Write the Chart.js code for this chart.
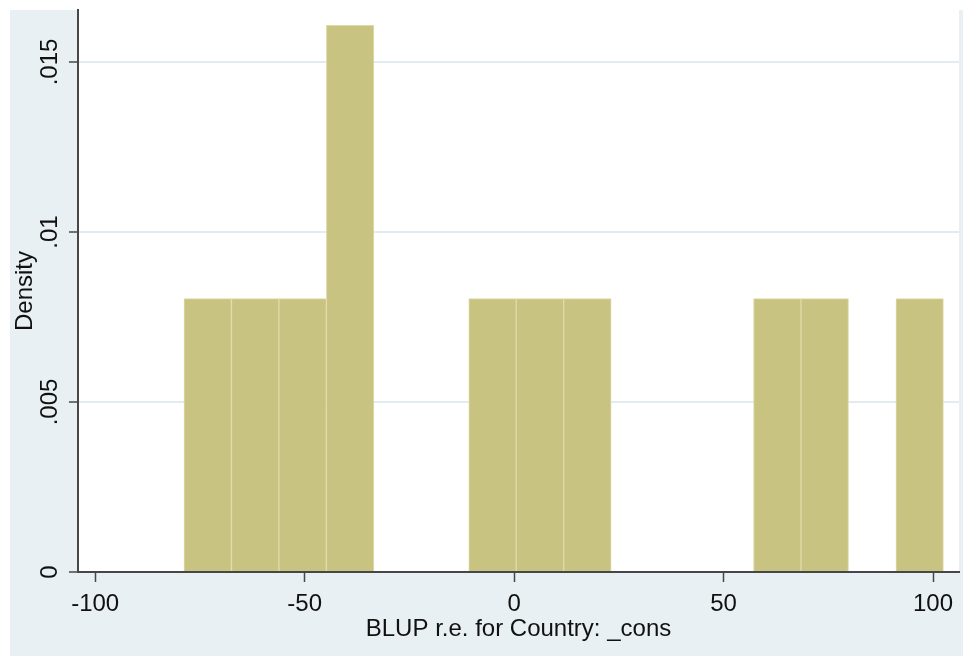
<!DOCTYPE html>
<html>
<head>
<meta charset="utf-8">
<script src="https://cdn.jsdelivr.net/npm/chart.js@4.4.0/dist/chart.umd.min.js"></script>
<style>
  html, body { margin: 0; padding: 0; background: #fff; }
</style>
</head>
<body>
<canvas id="histChart" width="963" height="656"></canvas>
<script>
// histogram of the country random effects: lower edge of the first bin and bin width
const binStart = -78.8;
const binWidth = 11.33;
const densities = [0.00804, 0.00804, 0.00804, 0.01608, 0, 0, 0.00804, 0.00804, 0.00804, 0, 0, 0, 0.00804, 0.00804, 0, 0.00804];

const xRange = [-104.1, 106.2];
const xTicks = [-100, -50, 0, 50, 100];
const yMax = 0.01653;
const yTicks = [0, 0.005, 0.01, 0.015];
const yTickLabels = ['0', '.005', '.01', '.015'];

const barFill = 'rgb(201,195,129)';
const barEdge = 'rgb(222,218,170)';
const panelBg = 'rgb(232,240,243)';
const gridColor = 'rgb(226,235,239)';
const axisColor = '#474747';
const textColor = '#111';
const font = { family: '"Liberation Sans", Arial, sans-serif', size: 24 };

const points = densities.map((d, i) => ({ x: binStart + (i + 0.5) * binWidth, y: d > 0 ? d : null }));

// light-blue graph region with a white plot region inside it
const panelBackground = {
  id: 'panelBackground',
  beforeDraw(chart) {
    const { ctx, chartArea: a, width, height } = chart;
    ctx.save();
    ctx.fillStyle = '#fff';
    ctx.fillRect(0, 0, width, height);
    ctx.fillStyle = panelBg;
    ctx.fillRect(10, 10, width - 10, height - 10);
    ctx.fillStyle = '#fff';
    ctx.fillRect(a.left, 0, a.right - a.left, a.bottom);
    ctx.restore();
  }
};

new Chart(document.getElementById('histChart'), {
  type: 'bar',
  data: {
    datasets: [{
      data: points,
      backgroundColor: barFill,
      borderColor: barEdge,
      borderWidth: 1,
      borderSkipped: 'start',
      barPercentage: 1,
      categoryPercentage: 1
    }]
  },
  plugins: [panelBackground],
  options: {
    responsive: false,
    animation: false,
    layout: { padding: { left: 10, top: 10, right: 4, bottom: 0 } },
    plugins: { legend: { display: false }, tooltip: { enabled: false } },
    scales: {
      x: {
        type: 'linear',
        offset: false,
        min: xRange[0],
        max: xRange[1],
        afterBuildTicks: s => { s.ticks = xTicks.map(v => ({ value: v })); },
        afterFit: s => { s.height = 84; },
        ticks: { font, color: textColor, padding: 8, maxRotation: 0 },
        grid: { offset: false, drawOnChartArea: false, drawTicks: true, tickLength: 10, tickColor: axisColor, tickWidth: 1.5 },
        border: { color: axisColor, width: 2, z: 1 },
        title: { display: true, text: 'BLUP r.e. for Country: _cons', font, color: textColor, padding: { top: 0, bottom: 12 } }
      },
      y: {
        min: 0,
        max: yMax,
        afterBuildTicks: s => { s.ticks = yTicks.map(v => ({ value: v })); },
        afterFit: s => { s.width = 68; },
        ticks: {
          font, color: textColor, padding: -5, minRotation: 90, maxRotation: 90, crossAlign: 'center',
          callback: (v, i) => yTickLabels[i]
        },
        grid: { color: gridColor, lineWidth: 2, drawTicks: true, tickLength: 9, tickColor: axisColor, tickWidth: 1.5 },
        border: { color: axisColor, width: 2, z: 1 },
        title: { display: true, text: 'Density', font, color: textColor, padding: { top: 1, bottom: 0 } }
      }
    }
  }
});
</script>
</body>
</html>
